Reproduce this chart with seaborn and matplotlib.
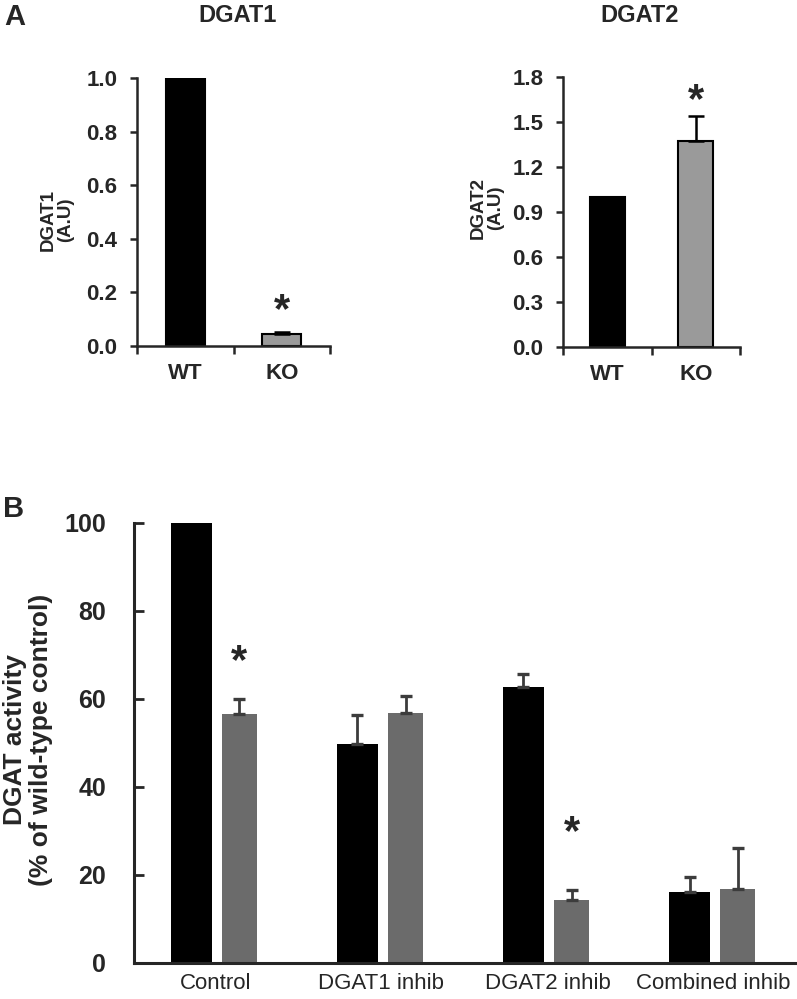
import numpy as np
import pandas as pd
import matplotlib
matplotlib.use("Agg")
import matplotlib.pyplot as plt
import seaborn as sns

# ---------------- data ----------------
genotypes = ["WT", "KO"]
dgat1_vals = [1.0, 0.045]
dgat1_err = [0.0, 0.006]
dgat2_vals = [1.0, 1.37]
dgat2_err = [0.0, 0.17]

conditions = ["Control", "DGAT1 inhib", "DGAT2 inhib", "Combined inhib"]
wt_activity = [100.0, 49.8, 62.7, 16.2]
wt_err = [0.0, 6.5, 3.0, 3.3]
ko_activity = [56.6, 56.8, 14.3, 16.9]
ko_err = [3.3, 3.8, 2.4, 9.2]

dgat1_ticks = [0.0, 0.2, 0.4, 0.6, 0.8, 1.0]
dgat2_ticks = [0.0, 0.3, 0.6, 0.9, 1.2, 1.5, 1.8]
act_ticks = [0, 20, 40, 60, 80, 100]

# ---------------- style ----------------
sns.set_theme(style="ticks")
plt.rcParams["font.family"] = ["Liberation Sans", "DejaVu Sans"]

W, H = 797, 999
fig = plt.figure(figsize=(W / 100, H / 100), dpi=100)


def px_axes(left, right, top, bottom):
    return fig.add_axes([left / W, 1 - bottom / H, (right - left) / W, (bottom - top) / H])


def panel_a(ax, vals, errs, ticks):
    d = pd.DataFrame({"g": genotypes, "v": vals})
    sns.barplot(data=d, x="g", y="v", hue="g", palette=["black", "#9a9a9a"],
                width=0.4, edgecolor="black", linewidth=1.5, legend=False, ax=ax)
    ax.set_xlim(-0.5, 1.5)
    ax.set_ylim(0, ticks[-1])
    ax.set_yticks(ticks)
    ax.set_yticklabels([f"{t:.1f}" for t in ticks], fontsize=16, fontweight="bold")
    ax.set_xticks([-0.5, 0.5, 1.5], minor=False)
    ax.set_xticks([0, 1], minor=True)
    ax.set_xticklabels(["", "", ""])
    ax.set_xticklabels(genotypes, minor=True, fontsize=16, fontweight="bold")
    ax.tick_params(axis="x", which="major", direction="out", length=6, width=1.8)
    ax.tick_params(axis="x", which="minor", length=0, pad=12)
    ax.tick_params(axis="y", direction="out", length=5, width=1.8, pad=9)
    ax.set_xlabel("")
    ax.set_ylabel("")
    for s in ["left", "bottom"]:
        ax.spines[s].set_linewidth(1.8)
    sns.despine(ax=ax)
    patches = sorted(ax.patches, key=lambda p: p.get_x())
    xs = [p.get_x() + p.get_width() / 2 for p in patches]
    for x, v, e in zip(xs, vals, errs):
        if e > 0:
            ax.errorbar(x, v, yerr=[[0], [e]], fmt="none", ecolor="black",
                        elinewidth=1.8, capsize=6, capthick=1.8)
    return xs


# Panel A - DGAT1
ax1 = px_axes(137, 330, 78, 346)
xs1 = panel_a(ax1, dgat1_vals, dgat1_err, dgat1_ticks)
ax1.text(xs1[1], 0.13, "*", ha="center", va="center", fontsize=30, fontweight="bold")

# Panel A - DGAT2
ax2 = px_axes(563, 740, 77, 347)
xs2 = panel_a(ax2, dgat2_vals, dgat2_err, dgat2_ticks)
ax2.text(xs2[1], 1.64, "*", ha="center", va="center", fontsize=30, fontweight="bold")

fig.text(238 / W, 1 - 16 / H, "DGAT1", ha="center", va="center", fontsize=17, fontweight="bold")
fig.text(640 / W, 1 - 16 / H, "DGAT2", ha="center", va="center", fontsize=17, fontweight="bold")
fig.text(57 / W, 1 - 220 / H, "DGAT1\n(A.U)", ha="center", va="center", rotation=90,
         fontsize=13.5, fontweight="bold", linespacing=1.0)
fig.text(487 / W, 1 - 208 / H, "DGAT2\n(A.U)", ha="center", va="center", rotation=90,
         fontsize=13.5, fontweight="bold", linespacing=1.0)
fig.text(15 / W, 1 - 17 / H, "A", ha="center", va="center", fontsize=21, fontweight="bold")

# Panel B
axb = px_axes(134, 795, 523, 963)
dfb = pd.DataFrame({
    "condition": np.repeat(conditions, 2),
    "genotype": genotypes * len(conditions),
    "value": np.ravel(np.column_stack([wt_activity, ko_activity])),
    "err": np.ravel(np.column_stack([wt_err, ko_err])),
})
sns.barplot(data=dfb, x="condition", y="value", hue="genotype", hue_order=genotypes,
            palette=["black", "#6b6b6b"], width=0.58, linewidth=0,
            errorbar=None, legend=False, ax=axb)
axb.set_xlim(-0.49, 3.49)
axb.set_ylim(0, 100)
axb.set_yticks(act_ticks)
axb.set_yticklabels([str(t) for t in act_ticks], fontsize=18, fontweight="bold")
axb.tick_params(axis="y", direction="in", length=7, width=2, pad=20)
axb.tick_params(axis="x", length=0, pad=7, labelsize=16)
for lab in axb.get_xticklabels():
    lab.set_fontweight("normal")
axb.set_xlabel("")
axb.set_ylabel("")
for s in ["left", "bottom"]:
    axb.spines[s].set_linewidth(2.2)
sns.despine(ax=axb)

bpatches = sorted([p for p in axb.patches if p.get_height() > 0], key=lambda p: p.get_x())
# black bars a bit wider than the grey ones (as in the figure)
for i, p in enumerate(bpatches):
    c = p.get_x() + p.get_width() / 2
    w = 0.247 if i % 2 == 0 else 0.211
    p.set_width(w)
    p.set_x(c - w / 2)

for p, v, e in zip(bpatches, dfb["value"], dfb["err"]):
    if e > 0:
        axb.errorbar(p.get_x() + p.get_width() / 2, v, yerr=[[0], [e]], fmt="none",
                     ecolor="#3c3c3c", elinewidth=2, capsize=4.5, capthick=2.4)

bx = [p.get_x() + p.get_width() / 2 for p in bpatches]
axb.text(bx[1], 68.5, "*", ha="center", va="center", fontsize=30, fontweight="bold")
axb.text(bx[5], 29.5, "*", ha="center", va="center", fontsize=30, fontweight="bold")

fig.text(28 / W, 1 - 740 / H, "DGAT activity\n(% of wild-type control)", ha="center",
         va="center", rotation=90, fontsize=19, fontweight="bold", linespacing=1.12)
fig.text(14 / W, 1 - 509 / H, "B", ha="center", va="center", fontsize=21, fontweight="bold")

fig.savefig("out.png", dpi=100)
